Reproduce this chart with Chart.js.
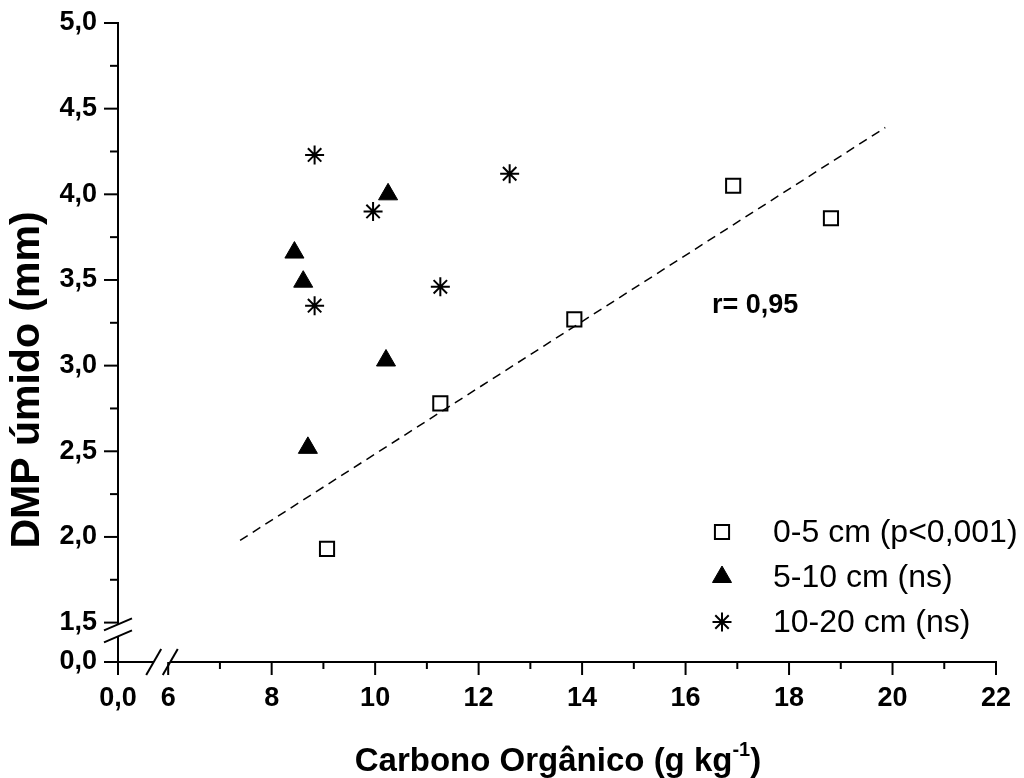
<!DOCTYPE html>
<html>
<head>
<meta charset="utf-8">
<script src="https://cdn.jsdelivr.net/npm/chart.js@4/dist/chart.umd.min.js"></script>
<style>
  body { margin: 0; background: #fff; }
</style>
</head>
<body>
<canvas id="chart" width="1024" height="778"></canvas>
<script>
// values
const depths = ['0-5 cm (p<0,001)', '5-10 cm (ns)', '10-20 cm (ns)'];
const carbon0_5 = [9.07, 11.26, 13.85, 16.92, 18.81];
const dmp0_5 = [1.93, 2.78, 3.27, 4.05, 3.86];
const carbon5_10 = [10.25, 8.44, 8.61, 10.21, 8.70];
const dmp5_10 = [4.00, 3.66, 3.49, 3.03, 2.52];
const carbon10_20 = [8.83, 12.60, 9.96, 11.26, 8.83];
const dmp10_20 = [4.23, 4.12, 3.90, 3.46, 3.35];
const fitX = [7.39, 19.86];
const fitY = [1.98, 4.39];
const rLabel = 'r= 0,95';

const xMajor = [6, 8, 10, 12, 14, 16, 18, 20, 22];
const xMinor = [7, 9, 11, 13, 15, 17, 19, 21];
const yMajor = [1.5, 2.0, 2.5, 3.0, 3.5, 4.0, 4.5, 5.0];
const yMinor = [1.75, 2.25, 2.75, 3.25, 3.75, 4.25, 4.75];
const xZero = 5.03;  // where the "0,0" tick sits before the break
const yZero = 1.27;

const FONT = '"Liberation Sans", Arial, sans-serif';
Chart.defaults.font.family = FONT;
Chart.defaults.color = '#000';

const pts = (xs, ys) => xs.map((x, i) => ({ x: x, y: ys[i] }));

const styles = [
  { pointStyle: 'rect', radius: 10, borderWidth: 2, fill: '#fff' },
  { pointStyle: 'triangle', radius: 11, borderWidth: 1, fill: '#000' },
  { pointStyle: 'star', radius: 9.5, borderWidth: 2, fill: '#000' }
];

function drawMarker(ctx, st, x, y) {
  ctx.save();
  ctx.fillStyle = st.fill;
  ctx.strokeStyle = '#000';
  ctx.lineWidth = st.borderWidth;
  Chart.helpers.drawPoint(ctx, { pointStyle: st.pointStyle, rotation: 0, radius: st.radius, borderWidth: st.borderWidth }, x, y);
  ctx.restore();
}

// axes with breaks, ticks, titles, legend and r label
const decor = {
  id: 'decor',
  afterDraw(chart) {
    const { ctx, scales: { x, y } } = chart;
    const seg = (a, b, c, d) => { ctx.beginPath(); ctx.moveTo(a, b); ctx.lineTo(c, d); ctx.stroke(); };
    const x0 = x.getPixelForValue(xZero), y0 = y.getPixelForValue(yZero);
    const xr = x.getPixelForValue(22), yt = y.getPixelForValue(5);
    ctx.save();
    ctx.strokeStyle = '#000';
    ctx.lineWidth = 2;
    ctx.lineCap = 'butt';

    // x axis, broken between 0,0 and 6
    const bx1 = x.getPixelForValue(5.72), bx2 = x.getPixelForValue(6.04);
    seg(x0 - 1, y0, bx1, y0);
    seg(bx2, y0, xr + 1, y0);
    [bx1, bx2].forEach(cx => seg(cx - 7.5, y0 + 13, cx + 7.5, y0 - 13));

    // y axis, broken between 0,0 and 1,5
    const by1 = y.getPixelForValue(1.49), by2 = y.getPixelForValue(1.42);
    seg(x0, y0 + 1, x0, by2);
    seg(x0, by1, x0, yt - 1);
    [by1, by2].forEach(cy => seg(x0 - 14, cy + 6, x0 + 14, cy - 6));

    // ticks
    [xZero, ...xMajor].forEach(v => { const p = x.getPixelForValue(v); seg(p, y0, p, y0 + 13); });
    xMinor.forEach(v => { const p = x.getPixelForValue(v); seg(p, y0, p, y0 + 7); });
    [yZero, ...yMajor].forEach(v => { const p = y.getPixelForValue(v); seg(x0, p, x0 - 14, p); });
    yMinor.forEach(v => { const p = y.getPixelForValue(v); seg(x0, p, x0 - 8, p); });

    ctx.fillStyle = '#000';

    // y title
    ctx.save();
    ctx.translate(28, 380);
    ctx.rotate(-Math.PI / 2);
    ctx.font = 'bold 41px ' + FONT;
    ctx.textAlign = 'center';
    ctx.textBaseline = 'middle';
    ctx.fillText('DMP úmido (mm)', 0, 0);
    ctx.restore();

    // x title with superscript
    const main = 'Carbono Orgânico (g kg', sup = '-1', close = ')';
    const bigF = 'bold 33px ' + FONT, supF = 'bold 20px ' + FONT;
    ctx.textBaseline = 'alphabetic';
    ctx.textAlign = 'left';
    ctx.font = bigF; const w1 = ctx.measureText(main).width, w3 = ctx.measureText(close).width;
    ctx.font = supF; const w2 = ctx.measureText(sup).width;
    let tx = 558 - (w1 + w2 + w3) / 2;
    const base = 771;
    ctx.font = bigF; ctx.fillText(main, tx, base); tx += w1;
    ctx.font = supF; ctx.fillText(sup, tx, base - 15); tx += w2;
    ctx.font = bigF; ctx.fillText(close, tx, base);

    // r label
    ctx.font = 'bold 27px ' + FONT;
    ctx.textBaseline = 'middle';
    ctx.fillText(rLabel, x.getPixelForValue(16.51), y.getPixelForValue(3.35));

    // legend
    ctx.font = '32px ' + FONT;
    depths.forEach((d, i) => {
      const ly = 532 + i * 45;
      drawMarker(ctx, styles[i], 722, ly);
      ctx.fillStyle = '#000';
      ctx.fillText(d, 773, ly + 1);
    });
    ctx.restore();
  }
};

const series = [pts(carbon0_5, dmp0_5), pts(carbon5_10, dmp5_10), pts(carbon10_20, dmp10_20)];

new Chart(document.getElementById('chart'), {
  type: 'scatter',
  data: {
    datasets: [
      {
        type: 'line',
        label: 'fit',
        data: pts(fitX, fitY),
        borderColor: '#000',
        borderWidth: 1.5,
        borderDash: [9, 6],
        pointRadius: 0,
        fill: false
      },
      ...series.map((s, i) => ({
        label: depths[i],
        data: s,
        pointStyle: styles[i].pointStyle,
        pointRadius: styles[i].radius,
        pointHoverRadius: styles[i].radius,
        pointBorderWidth: styles[i].borderWidth,
        borderColor: '#000',
        backgroundColor: styles[i].fill
      }))
    ]
  },
  options: {
    responsive: false,
    animation: false,
    events: [],
    layout: { padding: { top: 23, right: 28, left: 0, bottom: 0 } },
    plugins: { legend: { display: false }, tooltip: { enabled: false } },
    scales: {
      x: {
        type: 'linear',
        min: xZero,
        max: 22,
        grid: { display: false },
        border: { display: false },
        afterBuildTicks: s => { s.ticks = [xZero, ...xMajor].map(v => ({ value: v })); },
        afterFit: s => { s.height = 116; s.paddingLeft = 0; s.paddingRight = 0; },
        ticks: {
          padding: 12,
          autoSkip: false,
          maxRotation: 0,
          color: '#000',
          font: { size: 27, weight: 'bold' },
          callback: v => v === xZero ? '0,0' : String(v)
        }
      },
      y: {
        type: 'linear',
        min: yZero,
        max: 5,
        grid: { display: false },
        border: { display: false },
        afterBuildTicks: s => { s.ticks = [yZero, ...yMajor].map(v => ({ value: v })); },
        afterFit: s => { s.width = 118; s.paddingTop = 0; s.paddingBottom = 0; },
        ticks: {
          padding: 13,
          autoSkip: false,
          color: '#000',
          font: { size: 27, weight: 'bold' },
          callback: v => v === yZero ? '0,0' : v.toFixed(1).replace('.', ',')
        }
      }
    }
  },
  plugins: [decor]
});
</script>
</body>
</html>
